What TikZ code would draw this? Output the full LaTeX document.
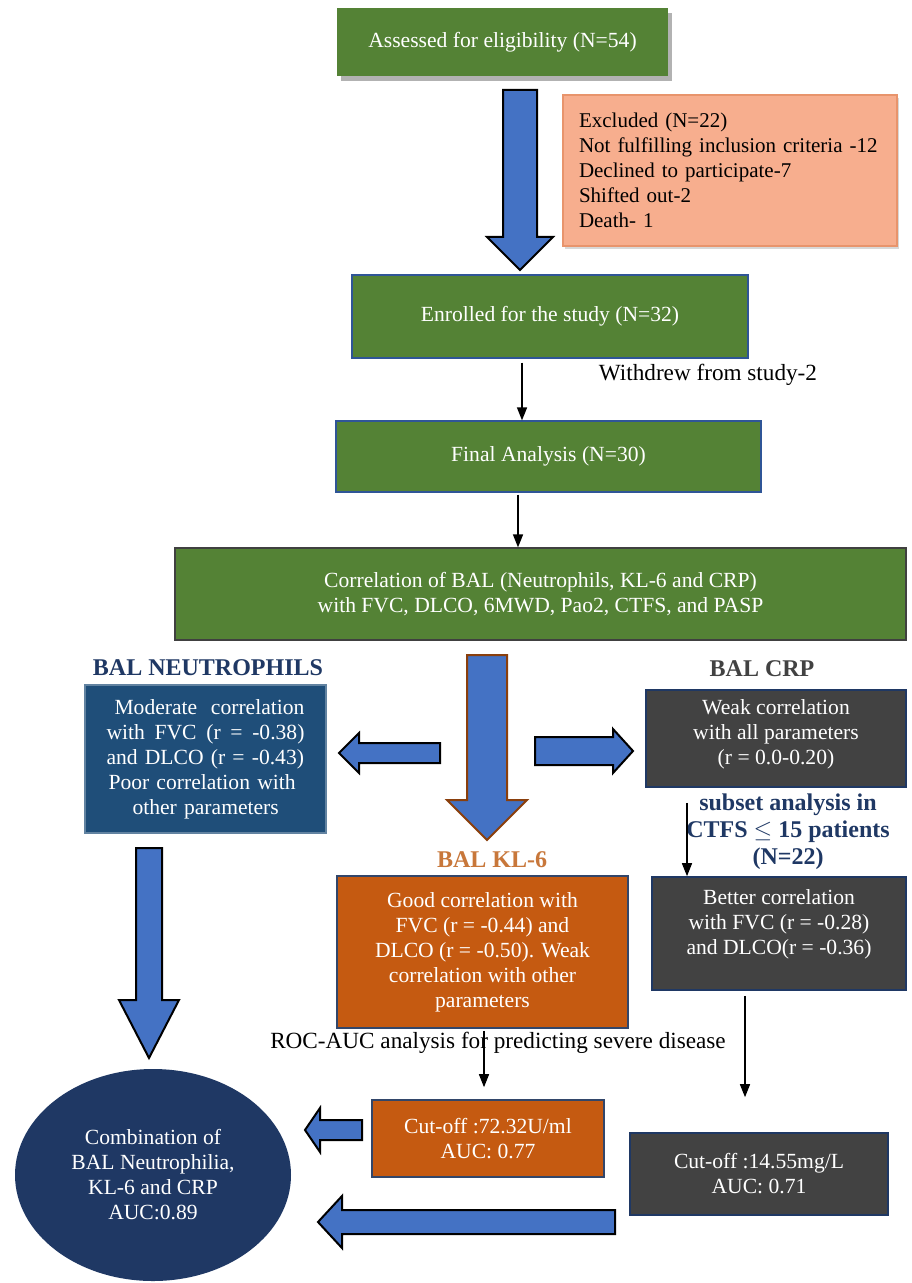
\documentclass[tikz,border=0pt]{standalone}
\usepackage{fontspec}
\setmainfont{Liberation Serif}
\usetikzlibrary{shapes.geometric,arrows.meta,shadows}
\definecolor{grn}{HTML}{548235}
\definecolor{blarrow}{HTML}{4472C4}
\definecolor{neutblue}{HTML}{1F4E79}
\definecolor{navy}{HTML}{1F3864}
\definecolor{klor}{HTML}{C55A11}
\definecolor{kllab}{HTML}{C8773A}
\definecolor{dgray}{HTML}{424242}
\definecolor{salmon}{HTML}{F7AE8E}
\definecolor{salmonb}{HTML}{E8946C}
\definecolor{bordblue}{HTML}{2F5597}
\newcommand\blkdn[7]{%
  \draw[#7] (#1-#5,#2) -- (#1+#5,#2) -- (#1+#5,#3) -- (#1+#6,#3) -- (#1,#4) -- (#1-#6,#3) -- (#1-#5,#3) -- cycle;}
\newcommand\blkh[7]{%
  \draw[#7] (#2,#1-#5) -- (#2,#1+#5) -- (#3,#1+#5) -- (#3,#1+#6) -- (#4,#1) -- (#3,#1-#6) -- (#3,#1-#5) -- cycle;}
\begin{document}
\begin{tikzpicture}[x=0.5pt,y=-0.5pt,
  every node/.style={font=\fontsize{10.8}{12.5}\selectfont, inner sep=0pt},
  box/.style={rectangle, align=center, text=white},
  greenbox/.style={box, fill=grn, draw=bordblue, line width=0.6pt},
  graybox/.style={box, fill=dgray, draw=navy, line width=0.8pt},
  orbox/.style={box, fill=klor, draw=navy!80!gray, line width=0.8pt},
  lab/.style={font=\fontsize{12}{13.5}\selectfont\bfseries, align=center},
  bigtext/.style={font=\fontsize{11.6}{13}\selectfont},
  thinarr/.style={line width=0.7pt, -{Triangle[length=6.5pt,width=5pt]}},
  barrow/.style={fill=blarrow, draw=black, line width=1pt, line join=miter},
  brarrow/.style={fill=blarrow, draw=klor!70!black, line width=1pt, line join=miter}]
\useasboundingbox (0,0) rectangle (911,1283);
\fill[white] (0,0) rectangle (911,1283);

% top
\node[box, fill=grn, minimum width=165.5pt, minimum height=34pt,
  drop shadow={shadow xshift=2pt, shadow yshift=-2.5pt, fill=black!50, opacity=0.6}]
  (assess) at (502.5,42) {Assessed for eligibility (N=54)};
\blkdn{520}{90}{237}{270}{17}{33}{barrow}
\node[rectangle, fill=salmon, draw=salmonb, line width=0.6pt, minimum width=167pt, minimum height=75.5pt,
  text width=151pt, inner xsep=8pt, align=left, font=\fontsize{10.5}{12.5}\selectfont,
  drop shadow={shadow xshift=1pt, shadow yshift=-1.5pt, fill=black!30, opacity=0.5}] (excl) at (730,170.5)
  {Excluded (N=22)\\ Not fulfilling inclusion criteria -12\\ Declined to participate-7\\ Shifted out-2\\ Death- 1};

\node[greenbox, minimum width=198pt, minimum height=41.5pt] (enrol) at (550,316.5) {Enrolled for the study (N=32)};
\node[bigtext] (withdrew) at (708,375) {Withdrew from study-2};
\node[greenbox, minimum width=212.5pt, minimum height=35.5pt] (final) at (548.5,456.5) {Final Analysis (N=30)};
\node[greenbox, draw=black!75, minimum width=365.5pt, minimum height=46pt] (corr) at (540.5,594)
  {Correlation of BAL (Neutrophils, KL-6 and CRP)\\ with FVC, DLCO, 6MWD, Pao2, CTFS, and PASP};

\coordinate (x1) at (522,0);
\coordinate (x2) at (518,0);
\draw[thinarr, shorten <=2pt] (enrol.south -| x1) -- (final.north -| x1);
\draw[thinarr, shorten <=1pt] (final.south -| x2) -- (corr.north -| x2);

% middle row
\node[lab, text=navy] (neutlab) at (208,668) {BAL NEUTROPHILS};
\node[box, fill=neutblue, draw=neutblue!70!white, line width=0.6pt, minimum width=120.5pt, minimum height=74pt,
  text width=99pt, align=left] (neut) at (205.5,759)
  {\hspace*{4pt}Moderate\hfill correlation\\
   with\hfill FVC\hfill (r\hfill =\hfill -0.38)\\
   and DLCO (r = -0.43)\\
   \hspace*{1pt}Poor correlation with\\
   \hspace*{13pt}other parameters};
\blkh{753}{440}{359}{339}{10}{20}{barrow}

\node[lab, text=dgray] (crplab) at (762,669) {BAL CRP};
\node[graybox, minimum width=130pt, minimum height=48.5pt] (crp) at (776,738.5)
  {Weak correlation\\ with all parameters\\ (r = 0.0-0.20)\\[-5.5pt]};
\blkh{751}{535}{613}{633}{14}{22}{barrow}

\blkdn{487}{655}{800}{840}{20}{40}{brarrow}

\node[lab, text=navy] (subset) at (788,832) {subset analysis in\\ CTFS $\leq$ 15 patients\\ (N=22)};
\node[lab, text=kllab] (kllab) at (492,860) {BAL KL-6};

\node[orbox, minimum width=145.5pt, minimum height=76pt] (kl6) at (482.5,952)
  {Good correlation with\\ FVC (r = -0.44) and\\ DLCO (r = -0.50). Weak\\ correlation with other\\ parameters};
\node[graybox, minimum width=127pt, minimum height=56.5pt] (better) at (779,933.5)
  {Better correlation\\ with FVC (r = -0.28)\\ and DLCO(r = -0.36)\\[-1pt]};

\coordinate (x3) at (687,0);
\draw[thinarr, shorten <=7.5pt] (crp.south -| x3) -- (better.north -| x3);

\blkdn{149}{848}{1000}{1058}{13}{30}{barrow}

% bottom
\node[bigtext] (roc) at (498,1043) {ROC-AUC analysis for predicting severe disease};
\node[orbox, minimum width=116pt, minimum height=38.5pt] (cut72) at (488,1138.5)
  {Cut-off :72.32U/ml\\ AUC: 0.77};
\node[graybox, minimum width=129pt, minimum height=41pt] (cut14) at (759,1174)
  {Cut-off :14.55mg/L\\ AUC: 0.71};
\node[ellipse, fill=navy, text=white, align=center, minimum width=138pt, minimum height=106pt] (comb) at (153,1175)
  {Combination of\\ BAL Neutrophilia,\\ KL-6 and CRP\\ AUC:0.89};

\coordinate (x4) at (484,0);
\coordinate (x5) at (745,0);
\draw[thinarr, shorten <=1pt, shorten >=6pt] (kl6.south -| x4) -- (cut72.north -| x4);
\draw[thinarr, shorten <=2.5pt, shorten >=17.5pt] (better.south -| x5) -- (cut14.north -| x5);

\blkh{1130}{362}{320}{305}{10}{22}{barrow}
\blkh{1222}{615}{342}{318}{12}{26}{barrow}
\end{tikzpicture}
\end{document}
